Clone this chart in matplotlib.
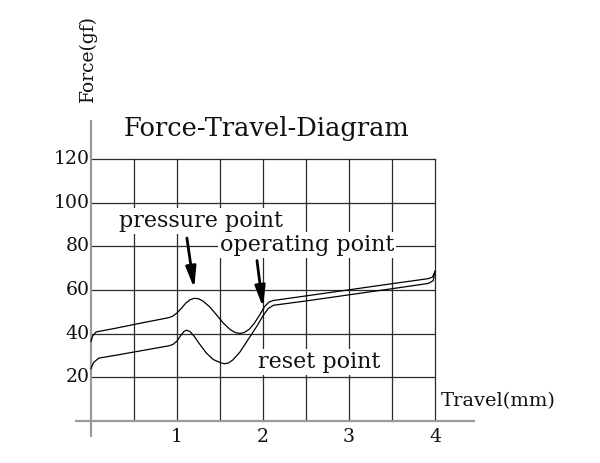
import matplotlib
matplotlib.use("Agg")
import matplotlib.pyplot as plt

# ---------------- data ----------------
press_x = [0.0, 0.02, 0.06, 0.3, 0.6, 0.9, 0.95, 1.0, 1.05, 1.1, 1.15, 1.2, 1.25, 1.3, 1.38,
           1.46, 1.54, 1.62, 1.68, 1.73, 1.78, 1.84, 1.9, 1.96, 2.02, 2.07, 2.12, 2.5, 3.0,
           3.5, 3.92, 3.97, 4.0]
press_y = [36.5, 39.0, 40.8, 42.6, 45.0, 47.3, 48.0, 49.5, 51.6, 53.9, 55.5, 56.2, 56.0, 55.0, 52.3,
           48.6, 44.8, 41.8, 40.5, 40.1, 40.5, 42.0, 44.8, 48.5, 52.5, 54.5, 55.2, 57.3, 60.1,
           62.9, 65.2, 65.9, 68.5]

reset_x = [0.0, 0.03, 0.09, 0.3, 0.6, 0.9, 0.95, 1.0, 1.04, 1.08, 1.11, 1.15, 1.2, 1.26, 1.34,
           1.42, 1.5, 1.55, 1.6, 1.65, 1.73, 1.83, 1.93, 2.0, 2.06, 2.12, 2.5, 3.0, 3.5, 3.92,
           3.98, 4.0]
reset_y = [24.0, 26.8, 28.8, 30.2, 32.3, 34.4, 35.0, 36.6, 39.0, 41.0, 41.6, 41.0, 38.8, 35.4, 31.2,
           28.2, 26.8, 26.2, 26.6, 28.0, 31.5, 37.5, 43.5, 48.2, 51.5, 53.0, 55.0, 57.8, 60.6, 63.0,
           64.3, 68.5]

x_ticks = [1, 2, 3, 4]
y_ticks = [20, 40, 60, 80, 100, 120]
x_grid = [0.5, 1.0, 1.5, 2.0, 2.5, 3.0, 3.5, 4.0]
y_grid = [20, 40, 60, 80, 100, 120]

title = "Force-Travel-Diagram"
x_label = "Travel(mm)"
y_label = "Force(gf)"
ann_pressure = ("pressure point", (1.2, 60.8), (1.115, 83.8))
ann_operating = ("operating point", (2.0, 52.0), (1.93, 73.5))
ann_reset = "reset point"

# ---------------- layout ----------------
W, H = 600, 463
PX0, PXS = 91.0, 86.0        # pixel x of travel 0, pixels per mm
PY0, PYS = 421.0, 2.183      # pixel y of force 0, pixels per gf
XL = (-0.3, 4.6)
YL = (-12, 140)

left_px = PX0 + XL[0] * PXS
right_px = PX0 + XL[1] * PXS
bot_px = PY0 - YL[0] * PYS
top_px = PY0 - YL[1] * PYS

FONT = "DejaVu Serif"
plt.rcParams['font.family'] = [FONT, 'DejaVu Sans']

fig = plt.figure(figsize=(W / 100, H / 100), dpi=100)
ax = fig.add_axes([left_px / W, 1 - bot_px / H, (right_px - left_px) / W, (bot_px - top_px) / H])
ax.set_xlim(*XL)
ax.set_ylim(*YL)
ax.axis('off')

grid_kw = dict(color='#2a2a2a', lw=0.9, zorder=1)
for gx in x_grid:
    ax.plot([gx, gx], [0, y_grid[-1]], **grid_kw)
for gy in y_grid:
    ax.plot([0, x_grid[-1]], [gy, gy], **grid_kw)

# axis lines
axis_kw = dict(color='#9a9a9a', lw=1.6, zorder=1.5, solid_capstyle='butt')
ax.plot([-0.186, 4.465], [0, 0], **axis_kw)
ax.plot([0, 0], [-7.3, 137.9], **axis_kw)

TXT = dict(family=FONT, color='#111111')
# tick labels
for t in y_ticks:
    ax.text(-0.02, t, str(t), ha='right', va='center', fontsize=13.6, **TXT)
for t in x_ticks:
    ax.text(t, -7.3, str(t), ha='center', va='center', fontsize=13.6, **TXT)

# curves
ax.plot(press_x, press_y, color='black', lw=0.9, zorder=3)
ax.plot(reset_x, reset_y, color='black', lw=0.9, zorder=3)

box = dict(facecolor='white', edgecolor='none', pad=1.5)
# annotations
ax.text((119 - PX0) / PXS, (PY0 - 221) / PYS, ann_pressure[0], ha='left', va='center',
        fontsize=16.0, bbox=box, zorder=2, **TXT)
ax.text((220 - PX0) / PXS, (PY0 - 245) / PYS, ann_operating[0], ha='left', va='center',
        fontsize=16.0, bbox=box, zorder=2, **TXT)
ax.text((258 - PX0) / PXS, (PY0 - 362) / PYS, ann_reset, ha='left', va='center',
        fontsize=16.0, bbox=box, zorder=2, **TXT)

arrow_kw = dict(arrowstyle='-|>,head_width=0.22,head_length=0.9', color='black', lw=2.0,
                shrinkA=0, shrinkB=0, mutation_scale=14)
ax.annotate('', xy=ann_pressure[1], xytext=ann_pressure[2], arrowprops=arrow_kw, zorder=4)
ax.annotate('', xy=ann_operating[1], xytext=ann_operating[2], arrowprops=arrow_kw, zorder=4)

# title & labels
fig.text(266.5 / W, 1 - 128 / H, title, ha='center', va='center', fontsize=18.5, **TXT)
fig.text(441 / W, 1 - 401 / H, x_label, ha='left', va='center', fontsize=14.0, **TXT)
fig.text(88 / W, 1 - 58 / H, y_label, ha='center', va='center', rotation=90, fontsize=13.5, **TXT)

fig.savefig("out.png", dpi=100, facecolor='white')
